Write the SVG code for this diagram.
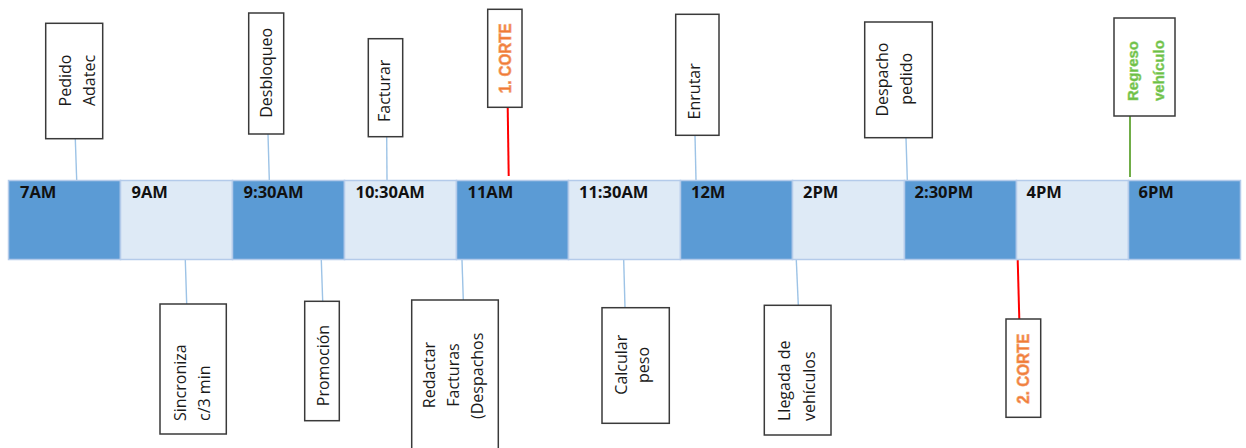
<svg xmlns="http://www.w3.org/2000/svg" width="1246" height="448" viewBox="0 0 1246 448">
<style>
.bg{fill:#ffffff}
.dk{fill:#5B9BD5;stroke:#B4CBEA;stroke-width:1.5}
.lt{fill:#DEEAF6;stroke:#B4CBEA;stroke-width:1.5}
.tm{font-family:"Open Sans","Liberation Sans",sans-serif;font-weight:bold;font-size:16.5px;fill:#111}
.box{fill:#fff;stroke:#3a3a3a;stroke-width:1.5}
.lbl{font-family:"Open Sans","Liberation Sans",sans-serif;font-size:16px;fill:#1a1a1a;text-anchor:middle}
.st{text-anchor:start}
.cut{font-family:"Liberation Sans",sans-serif;font-weight:bold;font-size:17px;fill:#F07A36;stroke:#F4A06E;stroke-width:0.7;text-anchor:middle}
.grn{font-family:"Liberation Sans",sans-serif;font-weight:bold;font-size:15px;fill:#6CBF45;stroke:#8FD06E;stroke-width:0.5}
.cb{stroke:#9DC3E6;stroke-width:1.4;fill:none}
.cr{stroke:#FF0000;stroke-width:2;fill:none}
.cg{stroke:#70AD47;stroke-width:2;fill:none}
</style>
<rect class="bg" x="0" y="0" width="1246" height="448"/>
<g id="connectors">
<line class="cb" x1="75.3" y1="138.7" x2="76.7" y2="180"/>
<line class="cb" x1="268" y1="134" x2="269.3" y2="180"/>
<line class="cb" x1="386.7" y1="136.7" x2="387" y2="180"/>
<line class="cr" x1="507.7" y1="107.3" x2="508.7" y2="176"/>
<line class="cb" x1="695" y1="135.3" x2="696" y2="180"/>
<line class="cb" x1="906" y1="137.7" x2="907.3" y2="180"/>
<line class="cg" x1="1130" y1="116" x2="1130" y2="177"/>
<line class="cb" x1="185.3" y1="260" x2="186.7" y2="304"/>
<line class="cb" x1="321.3" y1="260" x2="322.7" y2="301.3"/>
<line class="cb" x1="462" y1="260" x2="463.3" y2="300"/>
<line class="cb" x1="623.7" y1="260" x2="625" y2="307.7"/>
<line class="cb" x1="796.3" y1="260" x2="798.3" y2="305.3"/>
<line class="cr" x1="1017.7" y1="260" x2="1019.3" y2="319"/>
</g>
<g id="timeline">
<rect class="dk" x="8.5" y="180.5" width="112" height="79"/>
<rect class="lt" x="120.5" y="180.5" width="112" height="79"/>
<rect class="dk" x="232.5" y="180.5" width="112" height="79"/>
<rect class="lt" x="344.5" y="180.5" width="112" height="79"/>
<rect class="dk" x="456.5" y="180.5" width="112" height="79"/>
<rect class="lt" x="568.5" y="180.5" width="112" height="79"/>
<rect class="dk" x="680.5" y="180.5" width="112" height="79"/>
<rect class="lt" x="792.5" y="180.5" width="112" height="79"/>
<rect class="dk" x="904.5" y="180.5" width="112" height="79"/>
<rect class="lt" x="1016.5" y="180.5" width="112" height="79"/>
<rect class="dk" x="1128.5" y="180.5" width="112" height="79"/>
<text class="tm" x="20" y="198">7AM</text>
<text class="tm" x="131.5" y="198">9AM</text>
<text class="tm" x="243.5" y="198">9:30AM</text>
<text class="tm" x="355.5" y="198">10:30AM</text>
<text class="tm" x="467.5" y="198">11AM</text>
<text class="tm" x="579" y="198">11:30AM</text>
<text class="tm" x="691" y="198">12M</text>
<text class="tm" x="803" y="198">2PM</text>
<text class="tm" x="914.5" y="198">2:30PM</text>
<text class="tm" x="1026.5" y="198">4PM</text>
<text class="tm" x="1138.5" y="198">6PM</text>
</g>
<g id="n-pedido">
<rect class="box" x="45.7" y="23.3" width="57" height="115.4"/>
<text class="lbl" transform="translate(71,80.5) rotate(-90)">Pedido</text>
<text class="lbl" transform="translate(95,80.5) rotate(-90)">Adatec</text>
</g>
<g id="n-desbloqueo">
<rect class="box" x="248.7" y="13" width="35" height="121"/>
<text class="lbl" transform="translate(271.7,72.8) rotate(-90)">Desbloqueo</text>
</g>
<g id="n-facturar">
<rect class="box" x="368.3" y="38.7" width="34.4" height="98"/>
<text class="lbl" transform="translate(389.5,90.8) rotate(-90)">Facturar</text>
</g>
<g id="n-corte1">
<rect class="box" x="487.7" y="9.3" width="34.3" height="98"/>
<text class="cut" transform="translate(511,58.3) rotate(-90)" textLength="70" lengthAdjust="spacingAndGlyphs">1. CORTE</text>
</g>
<g id="n-enrutar">
<rect class="box" x="675.7" y="14.3" width="43.3" height="121"/>
<text class="lbl" transform="translate(699.5,91.3) rotate(-90)">Enrutar</text>
</g>
<g id="n-despacho">
<rect class="box" x="864.7" y="22" width="67.6" height="115.7"/>
<text class="lbl" transform="translate(888,79.5) rotate(-90)">Despacho</text>
<text class="lbl" transform="translate(912,78.8) rotate(-90)">pedido</text>
</g>
<g id="n-regreso">
<rect class="box" x="1114" y="18" width="61" height="98"/>
<text class="grn" transform="translate(1138.4,101) rotate(-90)">Regreso</text>
<text class="grn" transform="translate(1163.5,101) rotate(-90)">vehículo</text>
</g>
<g id="n-sincroniza">
<rect class="box" x="160" y="304" width="66.3" height="130"/>
<text class="lbl st" transform="translate(185.7,421) rotate(-90)">Sincroniza</text>
<text class="lbl st" transform="translate(209.5,421) rotate(-90)">c/3 min</text>
</g>
<g id="n-promocion">
<rect class="box" x="304.7" y="301.3" width="34.6" height="119.4"/>
<text class="lbl" transform="translate(329,365.5) rotate(-90)">Promoción</text>
</g>
<g id="n-redactar">
<rect class="box" x="411.7" y="300" width="86.6" height="152"/>
<text class="lbl" transform="translate(435,375) rotate(-90)">Redactar</text>
<text class="lbl" transform="translate(459,375) rotate(-90)">Facturas</text>
<text class="lbl" transform="translate(483,375.8) rotate(-90)">(Despachos</text>
</g>
<g id="n-calcular">
<rect class="box" x="602" y="307.7" width="67.3" height="115.6"/>
<text class="lbl" transform="translate(626.7,364.7) rotate(-90)">Calcular</text>
<text class="lbl" transform="translate(649,365) rotate(-90)">peso</text>
</g>
<g id="n-llegada">
<rect class="box" x="764.3" y="305.3" width="66.7" height="129.7"/>
<text class="lbl st" transform="translate(790,421) rotate(-90)">Llegada de</text>
<text class="lbl st" transform="translate(814.5,421) rotate(-90)">vehículos</text>
</g>
<g id="n-corte2">
<rect class="box" x="1006" y="319" width="34.7" height="98.3"/>
<text class="cut" transform="translate(1029,368.7) rotate(-90)" textLength="70" lengthAdjust="spacingAndGlyphs">2. CORTE</text>
</g>
</svg>
